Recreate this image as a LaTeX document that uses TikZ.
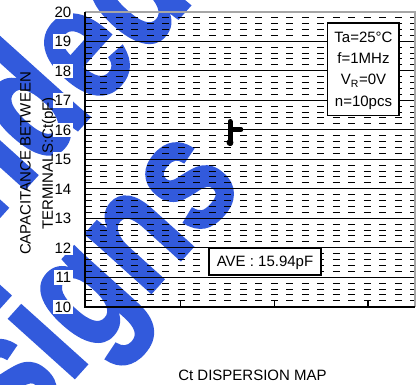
\documentclass[tikz,border=0pt]{standalone}
\usepackage{fontspec}
\setmainfont{Liberation Sans}
\newfontfamily\wmfont{Liberation Sans}[BoldFeatures={FakeBold=2}]
\definecolor{wmblue}{RGB}{50,90,220}
\begin{document}
\begin{tikzpicture}[x=0.75pt,y=-0.75pt,
  lab/.style={font=\fontsize{11.25pt}{13.5pt}\selectfont, inner sep=0pt},
  ticklab/.style={lab, anchor=base east, fill=white, inner sep=1.5pt},
  wm/.style={anchor=base east, inner sep=0pt, text=wmblue,
     font=\wmfont\fontsize{123.75pt}{123.75pt}\selectfont\bfseries},
  wmframe/.style={rotate=48, xscale=0.78, transform shape},
  major/.style={black, line width=0.75pt},
  minor/.style={black, line width=0.7pt, dash pattern=on 5.25pt off 6.375pt},
  boxed/.style={draw=black, line width=1.2pt, fill=white, inner sep=0pt}]
\useasboundingbox (0,0) rectangle (419,385);
\begin{scope}
  \clip (0,0) rectangle (419,385);
  \begin{scope}[shift={(195.4,-1.3)}, wmframe]
    \node[wm] (wm1) at (0,0) {Not Recommended};
  \end{scope}
  \begin{scope}[shift={(245.8,187.1)}, wmframe]
    \node[wm] (wm2) at (0,0) {for New Designs};
  \end{scope}
\end{scope}
% minor dashed grid
\foreach \m in {0,...,9} {
  \foreach \k in {1,2,3,4} {
    \draw[minor] (85,{306.7-(\m*5+\k)*5.9}) -- (415,{306.7-(\m*5+\k)*5.9});
  }
}
% major grid
\foreach \v in {11,...,19} {
  \draw[major] (85,{306.7-(\v-10)*29.5}) -- (415,{306.7-(\v-10)*29.5});
}
% frame
\draw[gray!70, line width=1.5pt] (85,11.7) -- (415,11.7) -- (415,306.7);
\draw[black, line width=1.5pt] (85,11.7) -- (85,306.7) -- (415,306.7);
% bottom ticks
\foreach \x in {180,274,368} {
  \draw[black, line width=0.75pt] (\x,306.7) -- (\x,301.2);
}
% tick labels
\foreach \v in {10,...,20} {
  \node[ticklab] (t\v) at (73.5,{306.7-(\v-10)*29.5+5.5}) {\v};
}
% axis titles
\node[lab, rotate=90, anchor=base] (ylab1) at (30.5,163.5) {CAPACITANCE BETWEEN};
\node[lab, rotate=90, anchor=base] (ylab2) at (53,163.5) {TERMINALS:Ct(pF)};
\node[lab, anchor=base] (xlab) at (252.5,380.5) {Ct DISPERSION MAP};
% data marker
\draw[black, line width=3.75pt, line cap=round] (230,121.5) -- (230,143.5);
\fill[black] (230,142.5) circle (2.6pt);
\draw[black, line width=3.4pt, line cap=round] (230,129.5) -- (241,129.5);
% info box
\node[boxed, minimum width=53.7pt, minimum height=69.3pt] (info) at (363.5,69.5) {};
\node[lab, anchor=base] (c1) at (363.5,42.7) {Ta=25°C};
\node[lab, anchor=base] (c2) at (363.5,63.3) {f=1MHz};
\node[lab, anchor=base] (c3) at (363.5,85) {V\textsubscript{R}=0V};
\node[lab, anchor=base] (c4) at (363.5,106.7) {n=10pcs};
% average box
\node[boxed, minimum width=84pt, minimum height=20.25pt] (ave) at (265,261.5) {};
\node[lab, anchor=base] (avetext) at (265,266.7) {AVE : 15.94pF};
\end{tikzpicture}
\end{document}
